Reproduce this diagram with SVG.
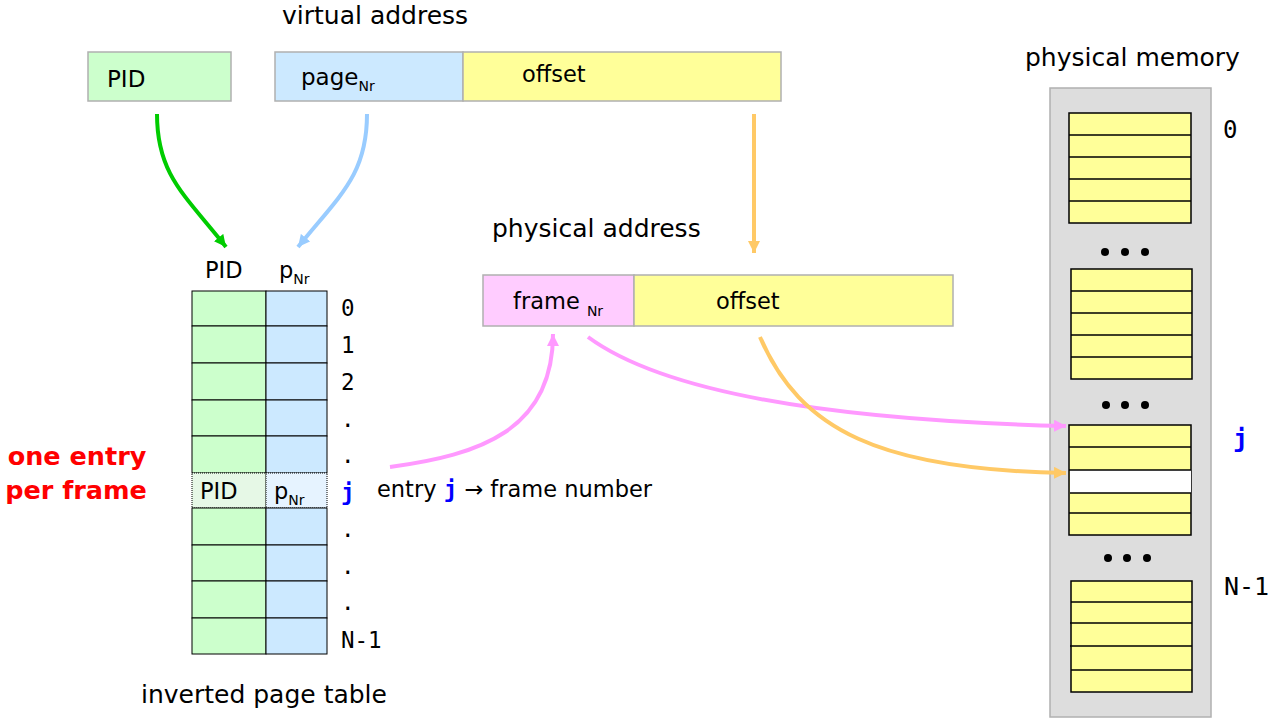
<svg xmlns="http://www.w3.org/2000/svg" width="1276" height="721" viewBox="0 0 1276 721">
<defs>
<style>
.t{font-family:"DejaVu Sans","Liberation Sans",sans-serif;fill:#000}
.m{font-family:"DejaVu Sans Mono","Liberation Mono",monospace;font-size:22.5px;fill:#000}
.g{fill:#ccffcc;stroke:#000;stroke-width:1}
.b{fill:#cce9ff;stroke:#000;stroke-width:1}
.y{fill:#ffff99;stroke:#000;stroke-width:1.5}
.bx{stroke:#b0b0b0;stroke-width:1.5}
.ln{stroke:#000;stroke-width:1.5}
.c{fill:none;stroke-width:4}
</style>
<marker id="aG" markerUnits="userSpaceOnUse" markerWidth="14" markerHeight="12" refX="12" refY="6" orient="auto"><path d="M0,0 L12,6 L0,12 Z" fill="#00cc00"/></marker>
<marker id="aB" markerUnits="userSpaceOnUse" markerWidth="14" markerHeight="12" refX="12" refY="6" orient="auto"><path d="M0,0 L12,6 L0,12 Z" fill="#99ccff"/></marker>
<marker id="aO" markerUnits="userSpaceOnUse" markerWidth="14" markerHeight="12" refX="12" refY="6" orient="auto"><path d="M0,0 L12,6 L0,12 Z" fill="#ffc966"/></marker>
<marker id="aP" markerUnits="userSpaceOnUse" markerWidth="14" markerHeight="12" refX="12" refY="6" orient="auto"><path d="M0,0 L12,6 L0,12 Z" fill="#ff99ff"/></marker>
</defs>
<rect width="1276" height="721" fill="#fff"/>

<g id="virtual-address">
<text class="t" x="282" y="24" font-size="25">virtual address</text>
<rect class="bx" x="88" y="52" width="143" height="49" fill="#ccffcc"/>
<text class="t" x="107" y="87" font-size="23">PID</text>
<rect class="bx" x="275" y="52" width="188" height="49" fill="#cce9ff"/>
<text class="t" x="301" y="85" font-size="23">page<tspan font-size="14" dy="6">Nr</tspan></text>
<rect class="bx" x="463" y="52" width="318" height="49" fill="#ffff99"/>
<text class="t" x="522" y="82" font-size="22.5">offset</text>
</g>

<g id="physical-address">
<text class="t" x="492" y="237" font-size="25">physical address</text>
<rect class="bx" x="483" y="275" width="151" height="51" fill="#ffccff"/>
<text class="t" x="513" y="309" font-size="22.5">frame <tspan font-size="14" dy="7">Nr</tspan></text>
<rect class="bx" x="634" y="275" width="319" height="51" fill="#ffff99"/>
<text class="t" x="716" y="309" font-size="22.5">offset</text>
</g>

<g id="inverted-page-table">
<text class="t" x="205" y="278" font-size="22.5">PID</text>
<text class="t" x="279" y="278" font-size="22.5">p<tspan font-size="14" dy="6">Nr</tspan></text>
<rect class="g" x="192" y="291" width="74" height="35"/><rect class="b" x="266" y="291" width="61" height="35"/>
<rect class="g" x="192" y="326" width="74" height="37"/><rect class="b" x="266" y="326" width="61" height="37"/>
<rect class="g" x="192" y="363" width="74" height="37"/><rect class="b" x="266" y="363" width="61" height="37"/>
<rect class="g" x="192" y="400" width="74" height="36"/><rect class="b" x="266" y="400" width="61" height="36"/>
<rect class="g" x="192" y="436" width="74" height="37"/><rect class="b" x="266" y="436" width="61" height="37"/>
<rect x="192" y="473" width="74" height="35" fill="#e6f8e6" stroke="#000" stroke-width="1" stroke-dasharray="1,1"/>
<rect x="266" y="473" width="61" height="35" fill="#e6f3ff" stroke="#000" stroke-width="1" stroke-dasharray="1,1"/>
<text class="t" x="200" y="499" font-size="22.5">PID</text>
<text class="t" x="274" y="499" font-size="22.5">p<tspan font-size="14" dy="6">Nr</tspan></text>
<rect class="g" x="192" y="508" width="74" height="37"/><rect class="b" x="266" y="508" width="61" height="37"/>
<rect class="g" x="192" y="545" width="74" height="36"/><rect class="b" x="266" y="545" width="61" height="36"/>
<rect class="g" x="192" y="581" width="74" height="37"/><rect class="b" x="266" y="581" width="61" height="37"/>
<rect class="g" x="192" y="618" width="74" height="36"/><rect class="b" x="266" y="618" width="61" height="36"/>
<text class="m" x="341" y="316">0</text>
<text class="m" x="341" y="353">1</text>
<text class="m" x="341" y="390">2</text>
<text class="m" x="341" y="427">.</text>
<text class="m" x="341" y="463">.</text>
<text class="m" x="341" y="500" font-weight="bold" style="fill:#0000ff">j</text>
<text class="m" x="341" y="537">.</text>
<text class="m" x="341" y="574">.</text>
<text class="m" x="341" y="610">.</text>
<text class="m" x="341" y="648">N-1</text>
<text class="t" x="141" y="703" font-size="25">inverted page table</text>
</g>

<g id="note">
<text x="77" y="465" text-anchor="middle" font-family="DejaVu Sans, Liberation Sans, sans-serif" font-weight="bold" font-size="25.5" fill="#ff0000">one entry</text>
<text x="76" y="499" text-anchor="middle" font-family="DejaVu Sans, Liberation Sans, sans-serif" font-weight="bold" font-size="25.5" fill="#ff0000">per frame</text>
<text class="t" x="377" y="497" font-size="22.5">entry <tspan font-weight="bold" fill="#0000ff" font-family="DejaVu Sans Mono, monospace">j</tspan> → frame number</text>
</g>

<g id="physical-memory">
<text class="t" x="1025" y="66" font-size="25">physical memory</text>
<rect class="bx" x="1050" y="88" width="161" height="629" fill="#dddddd"/>
<rect class="y" x="1069" y="113" width="122" height="110"/>
<path class="ln" d="M1069,135H1191M1069,157H1191M1069,179H1191M1069,201H1191"/>
<circle cx="1105" cy="252" r="4"/><circle cx="1125" cy="252" r="4"/><circle cx="1145" cy="252" r="4"/>
<rect class="y" x="1071" y="269" width="121" height="110"/>
<path class="ln" d="M1071,291H1192M1071,313H1192M1071,335H1192M1071,357H1192"/>
<circle cx="1106" cy="405" r="4"/><circle cx="1125" cy="405" r="4"/><circle cx="1145" cy="405" r="4"/>
<rect class="y" x="1069" y="425" width="122" height="110"/>
<rect x="1070" y="470" width="121" height="23" fill="#fff"/>
<path class="ln" d="M1069,447H1191M1069,470H1191M1070,493H1191M1069,513H1191"/>
<circle cx="1108" cy="558" r="4"/><circle cx="1127" cy="558" r="4"/><circle cx="1147" cy="558" r="4"/>
<rect class="y" x="1071" y="581" width="121" height="111"/>
<path class="ln" d="M1071,602H1192M1070,623H1192M1070,646H1192M1071,670H1192"/>
<text class="m" x="1223" y="138" font-size="24" style="font-size:24px">0</text>
<text class="m" x="1233" y="447" font-weight="bold" style="fill:#0000ff;font-size:25px">j</text>
<text class="m" x="1224" y="595" style="font-size:25px">N-1</text>
</g>

<g id="connectors">
<path class="c" stroke="#00cc00" d="M157,114 C157,175 185,195 226,247" marker-end="url(#aG)"/>
<path class="c" stroke="#99ccff" d="M367,114 C367,175 340,195 298,247" marker-end="url(#aB)"/>
<path class="c" stroke="#ffc966" d="M754,114 V253" marker-end="url(#aO)"/>
<path class="c" stroke="#ff99ff" d="M390,467 C480,455 553,430 553,334" marker-end="url(#aP)"/>
<path class="c" stroke="#ff99ff" d="M588,337 C660,390 820,420 1066,426" marker-end="url(#aP)"/>
<path class="c" stroke="#ffc966" d="M760,337 C800,430 880,470 1066,473" marker-end="url(#aO)"/>
</g>
</svg>
